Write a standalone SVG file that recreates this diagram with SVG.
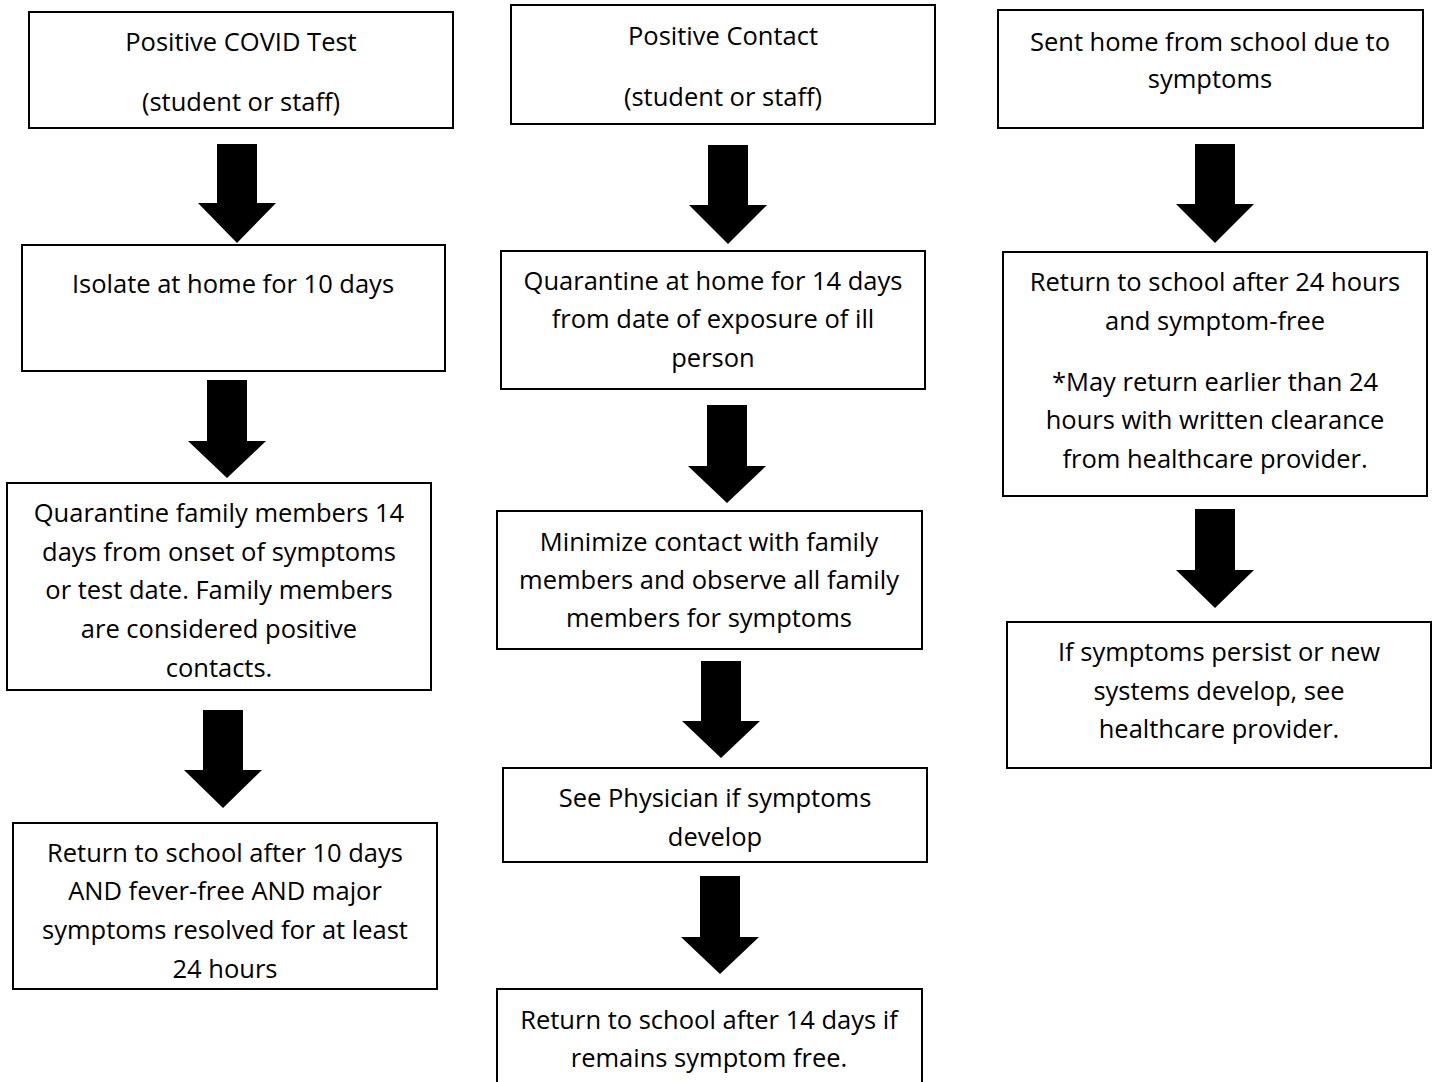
<svg xmlns="http://www.w3.org/2000/svg" width="1435" height="1082" viewBox="0 0 1435 1082">
<style>
.box{fill:#fff;stroke:#000;stroke-width:2}
.t{font-family:"Open Sans","Liberation Sans",sans-serif;font-size:25.5px;fill:#000;text-anchor:middle}
.arr{fill:#000}
</style>
<rect width="1435" height="1082" fill="#fff"/>
<g id="connectors">
<polygon class="arr" points="217,144 257,144 257,203 276,203 237,243 198,203 217,203"/>
<polygon class="arr" points="207,380 247,380 247,441 266,441 227,478 188,441 207,441"/>
<polygon class="arr" points="203,710 243,710 243,770 262,770 223,808 184,770 203,770"/>
<polygon class="arr" points="708,145 748,145 748,205 767,205 728,244 689,205 708,205"/>
<polygon class="arr" points="707,405 747,405 747,466 766,466 727,503 688,466 707,466"/>
<polygon class="arr" points="701,661 741,661 741,721 760,721 721,758 682,721 701,721"/>
<polygon class="arr" points="700,876 740,876 740,937 759,937 720,974 681,937 700,937"/>
<polygon class="arr" points="1195,144 1235,144 1235,204 1254,204 1215,243 1176,204 1195,204"/>
<polygon class="arr" points="1195,509 1235,509 1235,570 1254,570 1215,608 1176,570 1195,570"/>
</g>
<g id="a1"><rect class="box" x="29" y="12" width="424" height="116"/>
<text class="t" x="241" y="51">Positive COVID Test</text>
<text class="t" x="241" y="111">(student or staff)</text></g>
<g id="a2"><rect class="box" x="22" y="245" width="423" height="126"/>
<text class="t" x="233" y="293">Isolate at home for 10 days</text></g>
<g id="a3"><rect class="box" x="7" y="483" width="424" height="207"/>
<text class="t" x="219" y="522">Quarantine family members 14</text>
<text class="t" x="219" y="561">days from onset of symptoms</text>
<text class="t" x="219" y="599">or test date. Family members</text>
<text class="t" x="219" y="638">are considered positive</text>
<text class="t" x="219" y="677">contacts.</text></g>
<g id="a4"><rect class="box" x="13" y="823" width="424" height="166"/>
<text class="t" x="225" y="862">Return to school after 10 days</text>
<text class="t" x="225" y="900">AND fever-free AND major</text>
<text class="t" x="225" y="939">symptoms resolved for at least</text>
<text class="t" x="225" y="978">24 hours</text></g>
<g id="b1"><rect class="box" x="511" y="5" width="424" height="119"/>
<text class="t" x="723" y="45">Positive Contact</text>
<text class="t" x="723" y="106">(student or staff)</text></g>
<g id="b2"><rect class="box" x="501" y="251" width="424" height="138"/>
<text class="t" x="713" y="290">Quarantine at home for 14 days</text>
<text class="t" x="713" y="328">from date of exposure of ill</text>
<text class="t" x="713" y="367">person</text></g>
<g id="b3"><rect class="box" x="497" y="511" width="425" height="138"/>
<text class="t" x="709" y="551">Minimize contact with family</text>
<text class="t" x="709" y="589">members and observe all family</text>
<text class="t" x="709" y="627">members for symptoms</text></g>
<g id="b4"><rect class="box" x="503" y="768" width="424" height="94"/>
<text class="t" x="715" y="807">See Physician if symptoms</text>
<text class="t" x="715" y="846">develop</text></g>
<g id="b5"><rect class="box" x="497" y="989" width="425" height="110"/>
<text class="t" x="709" y="1029">Return to school after 14 days if</text>
<text class="t" x="709" y="1067">remains symptom free.</text></g>
<g id="c1"><rect class="box" x="998" y="10" width="425" height="118"/>
<text class="t" x="1210" y="51">Sent home from school due to</text>
<text class="t" x="1210" y="88">symptoms</text></g>
<g id="c2"><rect class="box" x="1003" y="252" width="424" height="244"/>
<text class="t" x="1215" y="291">Return to school after 24 hours</text>
<text class="t" x="1215" y="330">and symptom-free</text>
<text class="t" x="1215" y="391">*May return earlier than 24</text>
<text class="t" x="1215" y="429">hours with written clearance</text>
<text class="t" x="1215" y="468">from healthcare provider.</text></g>
<g id="c3"><rect class="box" x="1007" y="622" width="424" height="146"/>
<text class="t" x="1219" y="661">If symptoms persist or new</text>
<text class="t" x="1219" y="700">systems develop, see</text>
<text class="t" x="1219" y="738">healthcare provider.</text></g>
</svg>
